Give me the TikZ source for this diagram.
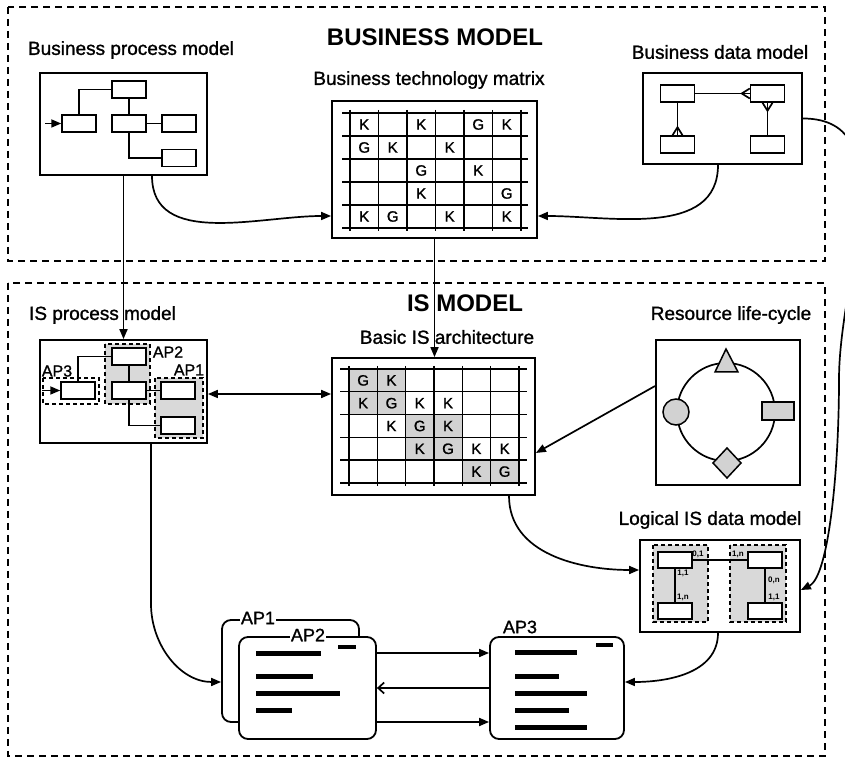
\documentclass[tikz,border=0pt]{standalone}
\usepackage{fontspec}
\setmainfont{Liberation Sans}
\newfontfamily\scanfont{Liberation Sans}[FakeBold=1.2]
\usetikzlibrary{arrows.meta}

\begin{document}
\begin{tikzpicture}[x=1pt,y=1pt,>={Triangle[length=10pt,width=8pt]}]
		\tikzstyle{zone}=[line width=1.3pt,dash pattern=on 7pt off 5pt]
		\tikzstyle{head}=[font=\bfseries\fontsize{24}{24}\selectfont]
		\tikzstyle{lbl}=[font=\scanfont\fontsize{19}{19}\selectfont]
		\tikzstyle{aplbl}=[font=\scanfont\fontsize{18}{18}\selectfont,inner sep=1pt]
		\tikzstyle{apsm}=[font=\scanfont\fontsize{16}{16}\selectfont,inner sep=0pt]
		\tikzstyle{cell}=[font=\scanfont\fontsize{15}{15}\selectfont,inner sep=0pt]
		\tikzstyle{card}=[font=\bfseries\fontsize{8}{8}\selectfont,inner sep=0.5pt]
		\tikzstyle{box}=[draw,line width=1.8pt,inner sep=0pt]
		\tikzstyle{ent}=[draw,line width=1.5pt,fill=white,minimum width=34pt,minimum height=17pt,inner sep=0pt]
		\tikzstyle{grp}=[draw,line width=1.5pt,dash pattern=on 4pt off 3pt,fill=gray!30]
		\tikzstyle{win}=[draw,line width=1.8pt,rounded corners=9pt,fill=white,minimum width=137pt,minimum height=102pt]
		\tikzstyle{bar}=[line width=5pt]
		\tikzstyle{gridln}=[line width=1.4pt]
		\tikzstyle{link}=[line width=1.7pt]
		\tikzstyle{shade}=[fill=gray!35,line width=1.5pt]

		\useasboundingbox (0,0) rectangle (845,759);
		\draw[zone] (8,752) rectangle (825,498);
		\draw[zone] (8,476) rectangle (825,3);

		% headings
		\node[head](bmt)at(435,722){BUSINESS MODEL};
		\node[head](ist)at(465,456){IS MODEL};
		\node[lbl](bpmt)at(131,709){Business process model};
		\node[lbl](btmt)at(429,679){Business technology matrix};
		\node[lbl](bdmt)at(720,707){Business data model};
		\node[lbl](ipmt)at(102.5,444){IS process model};
		\node[lbl](biat)at(447,422){Basic IS architecture};
		\node[lbl](rlct)at(731,444){Resource life-cycle};
		\node[lbl](ldmt)at(710,239){Logical IS data model};

		% frames
		\node[box,minimum width=167pt,minimum height=102pt](bpm)at(123.5,635){};
		\node[box,minimum width=205pt,minimum height=137pt](btm)at(434.5,589.5){};
		\node[box,minimum width=159pt,minimum height=91pt](bdm)at(722.5,640.5){};
		\node[box,minimum width=167pt,minimum height=103pt](ipm)at(123.5,367.5){};
		\node[box,minimum width=203pt,minimum height=137pt](bia)at(433.5,332.5){};
		\node[box,minimum width=144pt,minimum height=145pt](rlc)at(728,346.5){};
		\node[box,minimum width=160pt,minimum height=92pt](ldm)at(720,173){};

		% business process model
		\node[ent](bp1)at(129,669.5){};
		\node[ent](bp2)at(79,635.5){};
		\node[ent](bp3)at(129,635.5){};
		\node[ent](bp4)at(179,635.5){};
		\node[ent](bp5)at(179,601){};
		\draw[link,->] ([xshift=-16pt]bp2.west) -- (bp2.west);
		\draw[link] (bp2.north) |- (bp1.west)
		(bp1.south) -- (bp3.north)
		(bp3.east) -- (bp4.west)
		(bp3.south) |- (bp5.west);

		% business technology matrix
		\foreach \j in {0,...,5} \draw[gridln] (342,646-23*\j) -- (528,646-23*\j);
		\foreach \i in {0,...,6} \draw[gridln] (350+28.5*\i,649) -- (350+28.5*\i,528);
		\foreach \c/\r/\t in {1/1/K,3/1/K,5/1/G,6/1/K,1/2/G,2/2/K,4/2/K,3/3/G,5/3/K,3/4/K,6/4/G,1/5/K,2/5/G,4/5/K,6/5/K}
		\node[cell](bm\c\r)at({350+28.5*(\c-0.5)},{646-23*(\r-0.5)}){\t};

		% business data model
		\node[ent](bd1)at(677.5,665.5){};
		\node[ent](bd2)at(767.5,665.5){};
		\node[ent](bd3)at(677.5,614.5){};
		\node[ent](bd4)at(767.5,614.5){};
		\draw[link] (bd1.east) -- (bd2.west)
		(bd1.south) -- (bd3.north)
		(bd2.south) -- (bd4.north);
		\draw[link] ([yshift=5pt]bd2.west) -- ([xshift=-8pt]bd2.west) -- ([yshift=-5pt]bd2.west);
		\draw[link] ([xshift=-5pt]bd3.north) -- ([yshift=8pt]bd3.north) -- ([xshift=5pt]bd3.north);
		\draw[link] ([xshift=-5pt]bd2.south) -- ([yshift=-8pt]bd2.south) -- ([xshift=5pt]bd2.south);

		% IS process model
		\draw[grp,fill=white] (43,381) rectangle (99,355);
		\draw[grp] (105,415) rectangle (150,355);
		\draw[grp] (155,381) rectangle (203,321);
		\node[apsm](ipap3)at(57,388){AP3};
		\node[apsm](ipap2)at(168,407){AP2};
		\node[apsm](ipap1)at(189,389){AP1};
		\node[ent](ip1)at(129,402.5){};
		\node[ent](ip2)at(78,368.5){};
		\node[ent](ip3)at(129,368.5){};
		\node[ent](ip4)at(178,368.5){};
		\node[ent](ip5)at(178,333.5){};
		\draw[link,->] ([xshift=-18pt]ip2.west) -- (ip2.west);
		\draw[link] (ip2.north) |- (ip1.west)
		(ip1.south) -- (ip3.north)
		(ip3.east) -- (ip4.west)
		(ip3.south) |- (ip5.west);

		% basic IS architecture
		\fill[gray!35] (349,390) rectangle (405.6,344.4);
		\fill[gray!35] (405.6,344.4) rectangle (462.2,298.8);
		\fill[gray!35] (462.2,298.8) rectangle (518.8,276);
		\foreach \j in {0,...,5} \draw[gridln] (340,390-22.8*\j) -- (527,390-22.8*\j);
		\foreach \i in {0,...,6} \draw[gridln] (349+28.3*\i,393) -- (349+28.3*\i,273);
		\foreach \c/\r/\t in {1/1/G,2/1/K,1/2/K,2/2/G,3/2/K,4/2/K,2/3/K,3/3/G,4/3/K,3/4/K,4/4/G,5/4/K,6/4/K,5/5/K,6/5/G}
		\node[cell](ba\c\r)at({349+28.3*(\c-0.5)},{390-22.8*(\r-0.5)}){\t};

		% resource life-cycle
		\draw[link] (726,347) circle (49);
		\filldraw[shade] (715,387) -- (726,410) -- (738,387) -- cycle;
		\filldraw[shade] (676,347) circle (13);
		\filldraw[shade] (762,339) rectangle (794,357);
		\filldraw[shade] (727,281) -- (741,296) -- (727,311) -- (713,296) -- cycle;

		% logical IS data model
		\draw[grp] (653,214) rectangle (708,137);
		\draw[grp] (730,214) rectangle (786,137);
		\node[ent,minimum height=16pt](ld1)at(675,199){};
		\node[ent,minimum height=16pt](ld2)at(765,199){};
		\node[ent,minimum height=16pt](ld3)at(675,148){};
		\node[ent,minimum height=16pt](ld4)at(765,148){};
		\draw[link] (ld1.east) -- (ld2.west)
		(ld1.south) -- (ld3.north)
		(ld2.south) -- (ld4.north);
		\node[card](c1)at(698,205){0,1};
		\node[card](c2)at(738,205){1,n};
		\node[card](c3)at(683,186){1,1};
		\node[card](c4)at(683,162){1,n};
		\node[card](c5)at(774,179){0,n};
		\node[card](c6)at(774,162){1,1};

		% application windows
		\node[win](ap1w)at(290.5,88){};
		\node[aplbl,fill=white](ap1t)at(258,141){AP1};
		\node[win](ap2w)at(307.5,71){};
		\node[aplbl,fill=white](ap2t)at(308,124){AP2};
		\node[win,minimum width=134pt](ap3w)at(557,71){};
		\node[aplbl](ap3t)at(520,132){AP3};
		\draw[line width=4pt] (338,112) -- (356,112);
		\foreach \y/\e in {105/321,82/313,65/340,48/292} \draw[bar] (256,\y) -- (\e,\y);
		\draw[line width=4pt] (596,114) -- (613,114);
		\foreach \y/\e in {106/577,82/559,65/587,48/569,31/587} \draw[bar] (515,\y) -- (\e,\y);

		% connectors
		\draw[link,->] ([xshift=28.5pt]bpm.south) to[out=-90,in=180] ([yshift=-46.5pt]btm.west);
		\draw[link,->] ([xshift=-4.5pt]bdm.south) to[out=-90,in=0] ([yshift=-46.5pt]btm.east);
		\draw[link,->] (bpm.south) -- (ipm.north);
		\draw[link,->] (btm.south) -- (btm.south |- bia.north);
		\draw[link,<->] ([yshift=-2.5pt]ipm.east) -- ([yshift=32.5pt]bia.west);
		\draw[link,->] ([yshift=26.5pt]rlc.west) -- ([yshift=-26.5pt]bia.east);
		\draw[link,->] ([xshift=75.5pt]bia.south) to[out=-90,in=180] ([yshift=16pt]ldm.west);
		\coordinate (rbend) at (839,380);
		\draw[link,->] (bdm.east) to[out=0,in=90] (rbend) .. controls +(0,-90) and +(28,14) .. ([yshift=-4pt]ldm.east);
		\draw[link,->] ([xshift=27.5pt]ipm.south) -- ++(0,-160) to[out=-90,in=180] ([yshift=-11pt]ap1w.west);
		\draw[link,->] ([xshift=-2pt]ldm.south) to[out=-90,in=0] ([yshift=6pt]ap3w.east);
		\draw[link,->] ([yshift=35pt]ap2w.east) -- ([yshift=35pt]ap3w.west);
		\draw[link,-{Straight Barb[length=6pt,width=11pt]}] (ap3w.west) -- (ap2w.east);
		\draw[link,->] ([yshift=-34pt]ap2w.east) -- ([yshift=-34pt]ap3w.west);
\end{tikzpicture}
\end{document}
